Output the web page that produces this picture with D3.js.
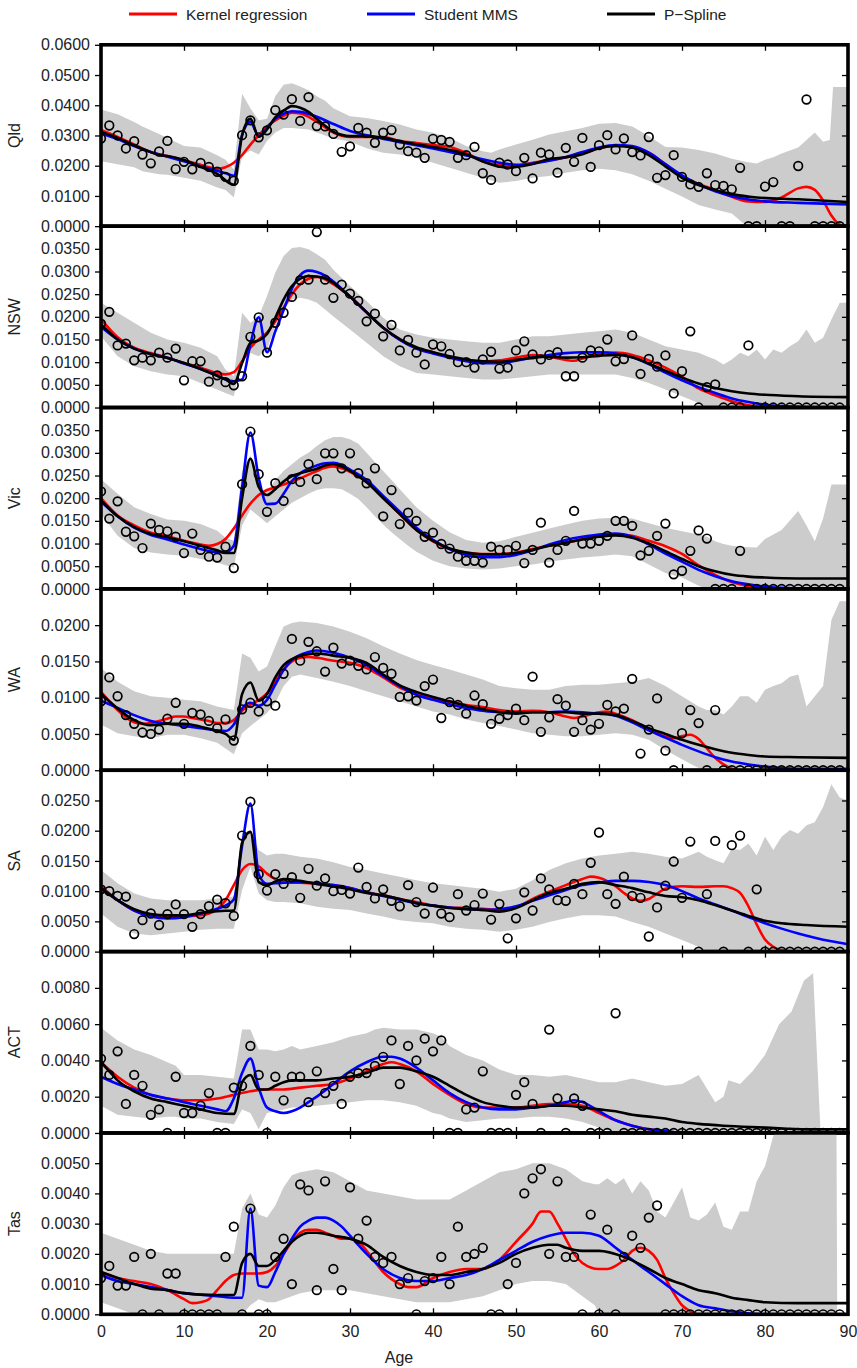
<!DOCTYPE html>
<html>
<head>
<meta charset="utf-8">
<script src="https://d3js.org/d3.v7.min.js"></script>
<style>
  body { margin: 0; background: #fff; }
  svg text { font-family: "Liberation Sans", Arial, sans-serif; fill: #222; }
  .tick line { stroke: #000; stroke-width: 1.3; }
  .domain { display: none; }
</style>
</head>
<body>
<svg id="chart" width="857" height="1368"></svg>
<script>
// ---- panel setup
const panelNames = ['Qld', 'NSW', 'Vic', 'WA', 'SA', 'ACT', 'Tas'];
const yMaxes = [0.06, 0.04, 0.04, 0.025, 0.03, 0.01, 0.006];
const ySteps = [0.01, 0.005, 0.005, 0.005, 0.005, 0.002, 0.001];
const ageTicks = [0, 10, 20, 30, 40, 50, 60, 70, 80, 90];
const legendNames = ['Kernel regression', 'Student MMS', 'P\u2212Spline'];
const lineColors = ['#ff0000', '#0000ff', '#000000'];

// observed rates, ages 0..89
const qldPts = [0.029,0.0333,0.030,0.0257,0.0281,0.0237,0.0208,0.0247,0.0282,0.0189,
  0.0213,0.0188,0.0209,0.0196,0.018,0.0163,0.015,0.0301,0.035,0.0294,
  0.0317,0.0384,0.0369,0.042,0.0348,0.0427,0.0331,0.033,0.0305,0.0246,
  0.0264,0.0325,0.0309,0.0276,0.0309,0.0318,0.027,0.0248,0.0243,0.0226,
  0.0289,0.0285,0.0279,0.0226,0.0235,0.0262,0.0175,0.0153,0.021,0.0204,
  0.0182,0.0226,0.0158,0.0243,0.0237,0.0177,0.0259,0.0213,0.0292,0.0196,
  0.0268,0.0301,0.0254,0.029,0.0245,0.0234,0.0295,0.016,0.0169,0.0235,
  0.0163,0.0138,0.013,0.0175,0.0136,0.0133,0.0122,0.0193,0,0,
  0.0131,0.0146,0,0,0.0199,0.0419,0,0,0,0];
const nswPts = [0.0185,0.0211,0.0137,0.0141,0.0104,0.011,0.0104,0.0121,0.011,0.013,
  0.006,0.0102,0.0102,0.0057,0.0071,0.0056,0.0049,0.0069,0.0156,0.0199,
  0.0121,0.0187,0.0209,0.0244,0.0281,0.0282,0.0387,0.0282,0.0242,0.0271,
  0.0251,0.0235,0.019,0.0207,0.0157,0.0182,0.0126,0.0149,0.0121,0.0095,
  0.0139,0.0135,0.0118,0.01,0.01,0.0088,0.0106,0.0123,0.0086,0.0088,
  0.0126,0.0146,0.0117,0.0106,0.0116,0.0122,0.0069,0.0069,0.011,0.0126,
  0.0124,0.015,0.0102,0.0107,0.0159,0.0074,0.0107,0.009,0.0115,0.0031,
  0.008,0.0168,0,0.0045,0.0051,0,0,0,0.0137,0,
  0,0,0,0,0,0,0,0,0,0];
const vicPts = [0.0215,0.0155,0.0193,0.0126,0.0116,0.009,0.0144,0.013,0.0127,0.0115,
  0.0079,0.0122,0.0086,0.0071,0.0069,0.0093,0.0046,0.0231,0.0347,0.0253,
  0.017,0.0233,0.0194,0.0242,0.0236,0.0275,0.0242,0.0299,0.0299,0.0266,
  0.0299,0.0255,0.0233,0.0266,0.016,0.0218,0.0143,0.0168,0.015,0.0115,
  0.0124,0.0099,0.0089,0.0071,0.0062,0.0062,0.0058,0.0093,0.0086,0.0086,
  0.0095,0.0057,0.0086,0.0146,0.0058,0.0086,0.0106,0.0172,0.01,0.01,
  0.0106,0.0117,0.015,0.015,0.0139,0.0074,0.0084,0.0117,0.0144,0.0032,
  0.004,0.0084,0.0129,0.0111,0,0,0,0.0084,0,0,
  0,0,0,0,0,0,0,0,0,0];
const waPts = [0.0095,0.0128,0.0102,0.0076,0.0064,0.0052,0.005,0.0056,0.0071,0.0093,
  0.0064,0.0079,0.0077,0.0068,0.0058,0.007,0.0041,0.0084,0.0093,0.0081,
  0.0095,0.0089,0.0133,0.0181,0.0151,0.0177,0.0164,0.0136,0.0169,0.0147,
  0.0151,0.0144,0.0139,0.0156,0.0141,0.0133,0.0101,0.0102,0.0096,0.0116,
  0.0125,0.0072,0.0094,0.009,0.0078,0.0103,0.0091,0.0064,0.0071,0.0076,
  0.0085,0.0069,0.0129,0.0053,0.0073,0.0098,0.0089,0.0053,0.0069,0.0056,
  0.0064,0.009,0.0081,0.0085,0.0126,0.0023,0.0056,0.0099,0.0027,0,
  0.0051,0.0083,0.0065,0,0.0083,0,0,0,0,0,
  0,0,0,0,0,0,0,0,0,0];
const saPts = [0.0103,0.01,0.0092,0.0091,0.0029,0.0052,0.0063,0.0044,0.0062,0.0078,
  0.0062,0.0041,0.0062,0.0075,0.0086,0.008,0.0059,0.0192,0.0248,0.0128,
  0.0101,0.0128,0.0112,0.0123,0.0089,0.0137,0.0109,0.0121,0.01,0.0102,
  0.0096,0.0139,0.0107,0.0088,0.0103,0.0084,0.0075,0.011,0.0082,0.0063,
  0.0106,0.0063,0.0057,0.0095,0.0068,0.0077,0.0096,0.0053,0.0079,0.0022,
  0.0055,0.0098,0.0068,0.0121,0.0103,0.0085,0.0084,0.0112,0.0095,0.0147,
  0.0197,0.0095,0.0079,0.0124,0.0092,0.0089,0.0025,0.0073,0.0109,0.0149,
  0.0089,0.0182,0,0.0095,0.0183,0,0.0176,0.0192,0,0.0103,
  0,0,0,0,0,0,0,0,0,0];
const actPts = [0.0041,0.0032,0.0045,0.0016,0.0032,0.0026,0.001,0.0013,0,0.0031,
  0.0011,0.0011,0.0015,0.0022,0,0,0.0025,0.0026,0.0048,0.0032,
  0,0.0031,0.0018,0.0031,0.0031,0.0017,0.0034,0.0022,0.0026,0.0016,
  0.0031,0.0033,0.0033,0.0037,0.0042,0.0051,0.0027,0.0048,0.004,0.0052,
  0.0045,0.0051,0,0,0.0013,0.0014,0.0034,0,0,0,
  0.0021,0.0028,0.0016,0,0.0057,0.0019,0,0.0019,0.0015,0,
  0,0,0.0066,0,0,0,0,0,0,0,
  0,0,0,0,0,0,0,0,0,0,
  0,0,0,0,0,0,0,0,0,0];
const tasPts = [0.0012,0.0016,0.00095,0.00095,0.0019,0,0.002,0,0.00135,0.00135,
  0,0,0,0,0,0.0019,0.0029,0,0.0035,0,
  0,0.0019,0.0025,0.001,0.0043,0.0041,0.0008,0.0044,0.0015,0.0008,
  0.0042,0.0025,0.0031,0.0019,0.0017,0.0019,0.001,0.0012,0,0.0011,
  0.0012,0.0019,0.001,0.0029,0.0019,0.002,0.0022,0,0,0.001,
  0.0017,0.004,0.0045,0.0048,0.002,0.0044,0.0019,0.0019,0,0.0033,
  0,0.0028,0,0.0019,0.0026,0.0022,0.0032,0.0036,0,0,
  0,0,0,0,0,0,0,0,0,0,
  0,0,0,0,0,0,0,0,0,0];

// gray bands: [age, lower, upper]
const qldBand = [[0,0.0215,0.0386],[2,0.0205,0.037],[4,0.0195,0.0345],[5,0.0182,0.033],[7,0.0172,0.0305],[8,0.017,0.0292],[10,0.016,0.0265],[12,0.015,0.026],[14,0.0128,0.0235],[15,0.012,0.022],[16,0.0095,0.0188],[17,0.0232,0.0438],[18,0.025,0.039],[19,0.0237,0.035],[20,0.0282,0.0355],[21,0.031,0.043],[22,0.0325,0.0468],[23,0.0325,0.0473],[24,0.0322,0.0462],[25,0.032,0.045],[26,0.031,0.043],[27,0.030,0.0415],[28,0.029,0.039],[30,0.028,0.0364],[32,0.0258,0.0358],[34,0.0243,0.0348],[36,0.0237,0.0336],[38,0.0226,0.032],[40,0.021,0.0309],[42,0.0193,0.0292],[44,0.0177,0.0265],[46,0.016,0.0248],[47,0.0152,0.0243],[48,0.0144,0.0254],[50,0.0149,0.027],[52,0.016,0.0286],[54,0.0166,0.0303],[56,0.0177,0.0314],[58,0.0185,0.0325],[60,0.019,0.0339],[62,0.0185,0.0341],[64,0.0172,0.033],[66,0.015,0.0298],[68,0.0124,0.0262],[70,0.0098,0.026],[72,0.007,0.0252],[74,0.0055,0.024],[76,0.0042,0.0223],[77.8,0,0.0212],[79,0,0.0207],[80,0,0.022],[81,0,0.0228],[82,0,0.024],[84,0,0.026],[86,0,0.031],[87,0,0.0279],[87.8,0,0.0285],[88.2,0,0.046],[90,0,0.046]];
const nswBand = [[0,0.0157,0.0231],[2,0.0113,0.0209],[4,0.0091,0.0187],[6,0.008,0.0165],[8,0.0073,0.015],[10,0.0069,0.0143],[12,0.0054,0.0132],[14,0.004,0.0113],[15,0.0032,0.0084],[16,0.0025,0.0069],[17,0.0106,0.0209],[18,0.012,0.0187],[19,0.0113,0.0201],[20,0.0128,0.0246],[21,0.0179,0.0297],[22,0.0216,0.0334],[23,0.0238,0.0352],[24,0.0242,0.0354],[25,0.0238,0.0349],[26,0.0231,0.0338],[27,0.0216,0.0326],[28,0.0201,0.0304],[30,0.0172,0.0268],[32,0.0143,0.0235],[34,0.0113,0.0198],[36,0.0091,0.0172],[38,0.0076,0.0161],[40,0.0073,0.0154],[42,0.0069,0.015],[44,0.0065,0.0146],[46,0.0062,0.0143],[48,0.0062,0.0143],[50,0.0065,0.015],[52,0.0069,0.0157],[54,0.0073,0.0157],[56,0.0073,0.0161],[58,0.0073,0.0165],[60,0.0073,0.0168],[62,0.0073,0.0172],[64,0.0065,0.0165],[66,0.0054,0.015],[68,0.004,0.0135],[70,0.0025,0.0128],[72,0.001,0.0121],[73,0,0.0113],[74,0,0.0106],[75,0,0.0095],[76,0,0.0106],[77,0,0.0121],[78,0,0.0113],[79,0,0.0128],[80,0,0.0106],[81,0,0.0128],[82,0,0.0121],[83,0,0.0135],[84,0,0.0146],[85,0,0.0172],[86,0,0.0143],[87,0,0.0154],[88,0,0.0194],[89,0,0.0231],[90,0,0.0231]];
const vicBand = [[0,0.0165,0.0242],[2,0.0117,0.021],[4,0.009,0.018],[6,0.008,0.0165],[8,0.0076,0.0153],[10,0.0073,0.015],[12,0.0066,0.0143],[14,0.0058,0.0128],[15,0.0052,0.0113],[16,0.0047,0.0106],[17,0.014,0.026],[18,0.0175,0.0295],[19,0.016,0.022],[20,0.0145,0.0215],[21,0.016,0.024],[22,0.0175,0.026],[23,0.019,0.0275],[24,0.02,0.029],[25,0.021,0.03],[26,0.0218,0.0315],[27,0.0222,0.0328],[28,0.0222,0.0335],[29,0.022,0.0335],[30,0.021,0.033],[31,0.0198,0.032],[32,0.018,0.03],[33,0.016,0.028],[34,0.0142,0.026],[35,0.0125,0.024],[36,0.011,0.022],[37,0.0095,0.02],[38,0.0082,0.018],[39,0.0072,0.0165],[40,0.0062,0.015],[42,0.005,0.0125],[44,0.0045,0.0108],[46,0.0043,0.0102],[48,0.0045,0.0105],[50,0.005,0.0115],[52,0.0054,0.0124],[54,0.006,0.0133],[56,0.0065,0.0142],[58,0.0069,0.015],[60,0.0072,0.0155],[62,0.0076,0.0157],[64,0.0072,0.0155],[66,0.0054,0.0145],[68,0.0035,0.0135],[70,0.0025,0.0127],[72,0.0007,0.012],[73,0,0.0115],[74,0,0.0105],[75,0,0.0099],[76,0,0.0095],[78,0,0.0092],[79,0,0.0091],[80,0,0.011],[82,0,0.013],[84,0,0.0172],[85,0,0.014],[86,0,0.0105],[87,0,0.0155],[88,0,0.023],[90,0,0.023]];
const waBand = [[0,0.0063,0.0141],[2,0.0051,0.0122],[4,0.0047,0.0109],[6,0.0044,0.0102],[8,0.0049,0.01],[10,0.0049,0.0097],[12,0.0044,0.0095],[14,0.0038,0.0088],[16,0.0022,0.0083],[17,0.0051,0.0161],[18,0.0061,0.0155],[19,0.007,0.0136],[20,0.0079,0.0143],[21,0.0093,0.0171],[22,0.0116,0.0198],[23,0.0129,0.0203],[24,0.0132,0.0205],[26,0.0127,0.0203],[28,0.0122,0.0198],[30,0.0116,0.0191],[32,0.0109,0.0182],[34,0.0102,0.0171],[36,0.0095,0.0161],[38,0.0088,0.0152],[40,0.0081,0.0145],[42,0.0077,0.0139],[44,0.007,0.0132],[46,0.0065,0.0125],[48,0.0061,0.0116],[50,0.0056,0.0113],[52,0.0051,0.0111],[54,0.0049,0.0111],[56,0.0047,0.0116],[58,0.0047,0.0118],[60,0.0049,0.0118],[62,0.0051,0.012],[64,0.0049,0.0122],[66,0.0042,0.0127],[68,0.0028,0.0116],[70,0.0015,0.0102],[72,0.0003,0.0088],[73,0,0.0083],[74,0,0.0083],[75,0,0.0077],[76,0,0.0088],[77,0,0.0102],[78,0,0.0102],[79,0,0.0093],[80,0,0.0111],[81,0,0.0116],[82,0,0.012],[83,0,0.0129],[84,0,0.0132],[85,0,0.0088],[86,0,0.0102],[87,0,0.0116],[88,0,0.0207],[89,0,0.0233],[90,0,0.0233]];
const saBand = [[0,0.0063,0.0135],[2,0.0041,0.0113],[4,0.003,0.0096],[6,0.0027,0.0088],[8,0.003,0.0085],[10,0.0033,0.0085],[12,0.0036,0.0085],[14,0.0038,0.0088],[16,0.0038,0.0091],[17,0.0102,0.0195],[18,0.014,0.0201],[19,0.0096,0.0168],[20,0.0085,0.0159],[21,0.0082,0.0162],[22,0.0082,0.0162],[24,0.008,0.0157],[26,0.0074,0.0154],[28,0.0071,0.0148],[30,0.0069,0.014],[32,0.0063,0.0135],[34,0.0058,0.0129],[36,0.0052,0.0124],[38,0.0049,0.0118],[40,0.0047,0.0113],[42,0.0041,0.011],[44,0.0038,0.0107],[46,0.0036,0.0104],[48,0.0033,0.0099],[50,0.0036,0.0104],[52,0.0041,0.0118],[54,0.0049,0.0135],[56,0.0055,0.0146],[58,0.006,0.0154],[60,0.006,0.0159],[62,0.0058,0.0162],[64,0.0049,0.0165],[66,0.0041,0.0162],[68,0.003,0.0157],[70,0.0019,0.0154],[72,0.0008,0.0165],[73,0,0.0157],[74,0,0.0151],[75,0,0.0146],[76,0,0.017],[77,0,0.0168],[78,0,0.0179],[79,0,0.0159],[80,0,0.019],[81,0,0.0168],[82,0,0.019],[83,0,0.0201],[84,0,0.0195],[85,0,0.0209],[86,0,0.0214],[87,0,0.0239],[88,0,0.0277],[89,0,0.0255],[90,0,0.025]];
const actBand = [[0,0.0015,0.0058],[2,0.001,0.0051],[4,0.0009,0.0046],[6,0.0008,0.0043],[8,0.0009,0.0039],[9,0.0009,0.0037],[10,0.0008,0.0032],[12,0.0008,0.0032],[14,0.0006,0.0031],[16,0.0005,0.003],[17,0.0013,0.0057],[18,0.0011,0.0057],[19,0.0002,0.0046],[20,0.0011,0.0046],[21,0.0012,0.0045],[22,0.0013,0.0046],[23,0.0014,0.0048],[24,0.0014,0.0046],[26,0.0015,0.0048],[28,0.0016,0.005],[30,0.0017,0.0053],[32,0.0018,0.0055],[33,0.0018,0.0057],[34,0.0018,0.0058],[36,0.0017,0.0057],[38,0.0015,0.0057],[40,0.0011,0.0055],[41,0.001,0.0053],[42,0.0008,0.0048],[44,0.0006,0.0043],[46,0.0007,0.004],[48,0.0008,0.0035],[50,0.0008,0.0032],[52,0.0009,0.0032],[54,0.0009,0.0031],[56,0.0008,0.0032],[58,0.0006,0.003],[60,0.0003,0.0028],[62,0,0.0028],[64,0,0.003],[66,0,0.0028],[68,0,0.0026],[70,0,0.0027],[72,0,0.0032],[74,0,0.0017],[75,0,0.002],[75.6,0,0.0029],[77,0,0.0027],[78.5,0,0.0034],[80,0,0.0043],[81.7,0,0.006],[83.2,0,0.0067],[84.7,0,0.0084],[85.8,0,0.0088],[86.7,0,0],[90,0,0]];
const tasBand = [[0,0.0004,0.0027],[2,0.0002,0.0025],[4,0,0.0023],[6,0,0.0021],[8,0,0.002],[10,0,0.002],[12,0,0.002],[14,0,0.002],[16,0,0.002],[17,0,0.0035],[18,0.0003,0.004],[19,0.0005,0.0033],[20,0.0004,0.0032],[21,0.0004,0.0036],[22,0.0005,0.0042],[23,0.0006,0.0046],[24,0.0007,0.0047],[26,0.0008,0.0048],[28,0.0008,0.0047],[30,0.0008,0.0044],[32,0.0007,0.0041],[34,0.0006,0.004],[36,0.0005,0.0039],[38,0.0004,0.0038],[40,0.0004,0.0038],[42,0.0004,0.0038],[44,0.0005,0.0041],[46,0.0006,0.0044],[48,0.0008,0.0047],[50,0.001,0.0048],[52,0.0011,0.005],[54,0.0011,0.005],[56,0.001,0.0048],[58,0.0006,0.0044],[59.5,0.0003,0.0043],[60,0,0.0043],[61,0,0.0045],[62,0,0.0043],[63,0,0.0045],[64,0,0.004],[65,0,0.0044],[66,0,0.0041],[67,0,0.0034],[68,0,0.0032],[69,0,0.0037],[70,0,0.0042],[71,0,0.0032],[72,0,0.0031],[73,0,0.0033],[74,0,0.0037],[75,0,0.0029],[76,0,0.0028],[77,0,0.0034],[78,0,0.0034],[79,0,0.0044],[80,0,0.0049],[81,0,0.0059],[82,0,0.0066],[88.6,0,0.007],[88.7,0,0],[90,0,0]];

// fitted curves: [age, rate]
const qldKernel = [[0,0.0318],[2,0.0295],[4,0.027],[6,0.0245],[8,0.0232],[10,0.0218],[12,0.0203],[13,0.0195],[14,0.019],[15,0.0195],[16,0.021],[17,0.0235],[18,0.027],[19,0.03],[20,0.033],[21,0.035],[22,0.0365],[23,0.0375],[24,0.0373],[26,0.0345],[28,0.031],[30,0.0295],[32,0.0295],[34,0.0295],[36,0.0282],[38,0.0275],[40,0.0268],[42,0.0262],[44,0.0242],[46,0.0215],[48,0.0202],[50,0.02],[52,0.021],[55,0.0222],[58,0.024],[60,0.0258],[62,0.0265],[64,0.0262],[66,0.0243],[68,0.0205],[70,0.0165],[72,0.014],[74,0.012],[76,0.0097],[78,0.0082],[80,0.008],[82,0.0095],[84,0.0125],[85,0.013],[86,0.012],[87,0.0085],[88,0.0035],[89,0.0005],[90,0]];
const qldMms = [[0,0.0307],[2,0.0288],[4,0.0265],[6,0.0245],[8,0.023],[10,0.0215],[12,0.0198],[14,0.0183],[15,0.0175],[16,0.0167],[17,0.0302],[18,0.0345],[19,0.0298],[20,0.0325],[21,0.0355],[22,0.0372],[23,0.038],[24,0.0378],[26,0.0362],[28,0.0338],[30,0.0315],[33,0.0295],[36,0.0278],[40,0.0257],[44,0.0234],[48,0.021],[50,0.0203],[52,0.0207],[55,0.0222],[58,0.0245],[60,0.026],[62,0.0268],[64,0.0265],[66,0.0243],[68,0.0205],[70,0.0168],[72,0.0138],[74,0.0115],[76,0.0099],[78,0.0088],[80,0.0082],[84,0.0077],[90,0.0072]];
const qldSpline = [[0,0.0312],[2,0.0292],[4,0.0267],[6,0.0245],[7,0.0235],[8,0.0232],[10,0.0219],[12,0.0196],[14,0.0173],[16,0.0137],[17,0.03],[18,0.0355],[19,0.0296],[20,0.032],[21,0.036],[22,0.0382],[23,0.0397],[24,0.0392],[25,0.0378],[26,0.0355],[27,0.0332],[28,0.0312],[29,0.0302],[30,0.0298],[32,0.0298],[34,0.0292],[36,0.0281],[38,0.0271],[40,0.0262],[42,0.0252],[44,0.0238],[46,0.0214],[48,0.0197],[49,0.0193],[50,0.0196],[52,0.0206],[54,0.0222],[56,0.0228],[58,0.0238],[60,0.0258],[62,0.0265],[64,0.026],[66,0.0235],[68,0.0198],[70,0.016],[72,0.0136],[73,0.0127],[76,0.0106],[79,0.0095],[84,0.0089],[90,0.008]];
const nswKernel = [[0,0.0195],[2,0.0155],[4,0.0132],[6,0.012],[8,0.011],[10,0.0098],[12,0.0088],[14,0.0076],[15,0.0073],[16,0.0078],[17,0.0102],[18,0.0132],[19,0.015],[20,0.0165],[21,0.019],[22,0.022],[23,0.025],[24,0.0272],[25,0.0284],[26,0.0288],[27,0.0283],[28,0.0272],[30,0.0245],[32,0.021],[34,0.0176],[36,0.015],[38,0.0131],[40,0.0122],[42,0.0111],[44,0.0105],[46,0.0102],[48,0.0104],[50,0.011],[52,0.0116],[54,0.0112],[56,0.0105],[57,0.0103],[58,0.0108],[60,0.0118],[62,0.0121],[64,0.0116],[66,0.0104],[68,0.0088],[70,0.0068],[72,0.0042],[74,0.0027],[76,0.0014],[78,0.0005],[80,0.0001],[82,0],[90,0]];
const nswMms = [[0,0.0178],[2,0.015],[4,0.013],[6,0.0118],[8,0.011],[10,0.0097],[12,0.0085],[14,0.007],[15,0.0062],[16,0.0058],[17,0.0062],[18,0.014],[19,0.0199],[20,0.0122],[21,0.0168],[22,0.0215],[23,0.0262],[24,0.0292],[25,0.0302],[26,0.0299],[27,0.0291],[28,0.0278],[30,0.0245],[32,0.021],[34,0.0176],[36,0.0149],[38,0.013],[40,0.0119],[42,0.011],[44,0.0102],[46,0.0098],[48,0.0098],[50,0.0103],[52,0.011],[54,0.0116],[56,0.012],[58,0.0122],[60,0.0122],[62,0.0119],[64,0.0111],[66,0.0096],[68,0.0077],[70,0.006],[72,0.0045],[74,0.0032],[76,0.002],[78,0.0012],[80,0.0006],[82,0.0003],[85,0.0001],[90,0]];
const nswSpline = [[0,0.0183],[2,0.015],[4,0.013],[6,0.0118],[8,0.0109],[10,0.0098],[12,0.0085],[14,0.007],[15,0.0062],[16,0.0052],[17,0.0098],[18,0.0142],[19,0.0148],[20,0.0162],[21,0.0198],[22,0.0238],[23,0.0268],[24,0.0284],[25,0.029],[26,0.0289],[27,0.0285],[28,0.0275],[29,0.026],[30,0.0245],[32,0.021],[34,0.0176],[36,0.0151],[38,0.0133],[40,0.0122],[42,0.0113],[44,0.0106],[46,0.0102],[48,0.0101],[50,0.0105],[52,0.011],[54,0.0112],[56,0.011],[58,0.0111],[60,0.0114],[62,0.0116],[64,0.0111],[66,0.0097],[68,0.0081],[70,0.0066],[72,0.0053],[74,0.0043],[76,0.0036],[78,0.0031],[80,0.0028],[84,0.0025],[90,0.0023]];
const vicKernel = [[0,0.02],[2,0.0162],[4,0.014],[6,0.0124],[8,0.0116],[10,0.0106],[12,0.0098],[13,0.0095],[14,0.0099],[15,0.011],[16,0.0133],[17,0.0162],[18,0.0188],[19,0.0207],[20,0.0218],[21,0.0224],[22,0.023],[23,0.0237],[24,0.0244],[25,0.0252],[26,0.026],[27,0.0267],[28,0.027],[29,0.0266],[30,0.0258],[32,0.0236],[34,0.0201],[36,0.0165],[38,0.013],[40,0.0105],[42,0.0088],[44,0.008],[46,0.0077],[48,0.0077],[50,0.008],[52,0.0088],[54,0.0095],[56,0.0101],[58,0.011],[60,0.0116],[62,0.012],[64,0.0117],[66,0.0106],[68,0.0094],[70,0.0077],[72,0.0052],[74,0.0031],[76,0.0015],[78,0.0006],[80,0.0002],[84,0],[90,0]];
const vicMms = [[0,0.0193],[2,0.016],[4,0.0135],[6,0.0119],[8,0.0109],[10,0.0098],[12,0.0088],[14,0.0081],[15,0.0081],[16,0.0095],[17,0.0225],[18,0.0345],[19,0.0245],[20,0.0187],[21,0.0188],[22,0.021],[23,0.0238],[24,0.0255],[25,0.0265],[26,0.0272],[27,0.0277],[28,0.0278],[29,0.0273],[30,0.0263],[32,0.024],[34,0.0205],[36,0.017],[38,0.0135],[40,0.0108],[42,0.0088],[44,0.0075],[46,0.007],[48,0.007],[50,0.0075],[52,0.0085],[54,0.0098],[56,0.0108],[58,0.0115],[60,0.012],[62,0.0122],[64,0.0115],[66,0.0098],[68,0.0078],[70,0.006],[72,0.0042],[74,0.0028],[76,0.0017],[78,0.001],[80,0.0005],[84,0.0001],[90,0]];
const vicSpline = [[0,0.0195],[2,0.016],[4,0.0136],[6,0.0121],[8,0.0114],[10,0.0105],[12,0.0095],[14,0.0085],[15,0.0079],[16,0.0079],[17,0.02],[18,0.0287],[19,0.0225],[20,0.0207],[21,0.022],[22,0.0237],[23,0.0249],[24,0.0255],[25,0.026],[26,0.0265],[27,0.0272],[28,0.0275],[29,0.027],[30,0.026],[32,0.0235],[34,0.02],[36,0.0165],[38,0.013],[40,0.0106],[42,0.0089],[44,0.008],[46,0.0076],[48,0.0076],[50,0.0079],[52,0.0086],[54,0.0095],[56,0.0102],[58,0.0109],[60,0.0115],[62,0.0118],[64,0.0113],[66,0.01],[68,0.0083],[70,0.0066],[72,0.005],[74,0.0039],[76,0.0031],[78,0.0027],[80,0.0025],[84,0.0023],[90,0.0023]];
const waKernel = [[0,0.0108],[1,0.0095],[2,0.0083],[3,0.0073],[4,0.0066],[5,0.0064],[6,0.0065],[7,0.0068],[8,0.0071],[9,0.0074],[10,0.0074],[11,0.0072],[12,0.007],[13,0.0068],[14,0.0065],[15,0.0065],[16,0.0069],[17,0.0082],[18,0.009],[19,0.0097],[20,0.0106],[21,0.0122],[22,0.0139],[23,0.015],[24,0.0155],[25,0.0156],[26,0.0155],[28,0.0151],[30,0.0148],[32,0.0141],[34,0.0128],[36,0.0114],[38,0.0106],[40,0.01],[42,0.0094],[44,0.009],[46,0.0087],[48,0.0083],[50,0.0081],[52,0.0082],[54,0.008],[56,0.0074],[57,0.0072],[58,0.0074],[60,0.008],[61,0.0081],[62,0.0078],[64,0.0069],[66,0.0057],[68,0.0046],[69,0.0044],[70,0.0047],[71,0.0049],[72,0.0043],[73,0.003],[74,0.0017],[75,0.0008],[76,0.0002],[77,0],[90,0]];
const waMms = [[0,0.0096],[2,0.0086],[4,0.0076],[6,0.0068],[8,0.0064],[10,0.0061],[12,0.0058],[14,0.0055],[15,0.0054],[16,0.0063],[17,0.0085],[18,0.0093],[19,0.0089],[20,0.0097],[21,0.0118],[22,0.0138],[23,0.0152],[24,0.0159],[25,0.0163],[26,0.0165],[27,0.0164],[28,0.0162],[30,0.0155],[32,0.0145],[34,0.013],[36,0.0116],[38,0.0104],[40,0.0097],[42,0.0091],[44,0.0086],[46,0.0082],[48,0.008],[50,0.008],[52,0.008],[54,0.008],[56,0.0081],[58,0.008],[60,0.0078],[62,0.0075],[64,0.0066],[66,0.0055],[68,0.0045],[70,0.0035],[72,0.0026],[74,0.0018],[76,0.0012],[78,0.0008],[80,0.0005],[84,0.0002],[90,0.0002]];
const waSpline = [[0,0.0106],[1,0.0095],[2,0.0085],[4,0.0069],[6,0.0062],[8,0.0064],[10,0.0064],[12,0.006],[14,0.0054],[15,0.005],[16,0.0042],[17,0.0105],[18,0.0121],[19,0.0096],[20,0.0105],[21,0.0128],[22,0.0145],[23,0.0153],[24,0.0158],[25,0.016],[26,0.0161],[27,0.016],[28,0.0158],[30,0.0155],[32,0.0148],[34,0.0132],[36,0.0117],[38,0.0108],[40,0.0101],[42,0.0095],[44,0.0089],[46,0.0084],[48,0.008],[50,0.0078],[52,0.008],[54,0.008],[56,0.008],[58,0.0078],[60,0.0078],[62,0.0076],[64,0.0068],[66,0.0058],[68,0.005],[70,0.0042],[72,0.0035],[74,0.0029],[76,0.0024],[78,0.0021],[80,0.0019],[84,0.0018],[90,0.0017]];
const saKernel = [[0,0.0108],[2,0.0085],[4,0.0068],[6,0.006],[8,0.0057],[10,0.0058],[12,0.006],[13,0.0063],[14,0.007],[15,0.0085],[16,0.011],[17,0.0135],[18,0.0145],[19,0.0141],[20,0.0129],[21,0.012],[22,0.0116],[24,0.0114],[26,0.0112],[28,0.011],[30,0.0105],[32,0.0098],[34,0.0093],[36,0.0087],[38,0.0082],[40,0.0076],[42,0.0073],[44,0.0072],[46,0.0071],[48,0.0069],[50,0.0073],[52,0.0087],[54,0.0099],[56,0.011],[58,0.012],[59,0.0124],[60,0.0122],[62,0.0108],[63,0.0097],[64,0.0088],[65,0.0084],[66,0.0087],[67,0.0096],[68,0.0104],[70,0.0108],[72,0.0107],[74,0.0108],[75,0.0108],[76,0.0105],[77,0.0097],[78,0.0075],[79,0.0045],[80,0.002],[81,0.0008],[82,0.0002],[84,0],[90,0]];
const saMms = [[0,0.0105],[2,0.0085],[4,0.0068],[6,0.0058],[8,0.0055],[10,0.0057],[12,0.0063],[14,0.0071],[15,0.0076],[16,0.0086],[17,0.0175],[18,0.0245],[19,0.0128],[20,0.0112],[21,0.0113],[22,0.0114],[24,0.0115],[26,0.0113],[28,0.011],[30,0.0105],[32,0.0098],[34,0.0092],[36,0.0086],[38,0.008],[40,0.0076],[42,0.0073],[44,0.0071],[46,0.0069],[48,0.007],[50,0.0075],[52,0.0084],[54,0.0093],[56,0.0102],[58,0.011],[60,0.0114],[62,0.0117],[64,0.0117],[66,0.0115],[68,0.011],[70,0.01],[72,0.0088],[74,0.0078],[76,0.0068],[78,0.0057],[80,0.0047],[82,0.0038],[84,0.003],[86,0.0023],[88,0.0017],[90,0.0012]];
const saSpline = [[0,0.0105],[2,0.0085],[4,0.007],[6,0.0062],[8,0.006],[10,0.006],[12,0.0064],[14,0.0067],[16,0.0068],[17,0.018],[18,0.0198],[19,0.0115],[20,0.011],[21,0.0116],[22,0.012],[24,0.0117],[26,0.0112],[28,0.0108],[30,0.0103],[32,0.0097],[34,0.0093],[36,0.0087],[38,0.008],[40,0.0076],[42,0.0072],[44,0.007],[46,0.0069],[48,0.0066],[50,0.0072],[52,0.0085],[54,0.0097],[56,0.0104],[58,0.0112],[60,0.0115],[62,0.011],[64,0.0105],[66,0.0098],[68,0.0092],[70,0.009],[72,0.0085],[74,0.0077],[76,0.0068],[78,0.0059],[80,0.0051],[82,0.0047],[85,0.0044],[90,0.0041]];
const actKernel = [[0,0.0039],[2,0.0031],[4,0.0025],[6,0.0021],[8,0.0019],[10,0.0018],[12,0.0018],[14,0.0019],[16,0.0021],[18,0.0023],[20,0.0024],[22,0.0024],[24,0.0025],[26,0.0026],[28,0.0027],[30,0.003],[32,0.0034],[34,0.0038],[35,0.0039],[36,0.0038],[38,0.0034],[40,0.0027],[42,0.0021],[44,0.0016],[46,0.0014],[48,0.0014],[50,0.0014],[52,0.0015],[54,0.0016],[56,0.0016],[58,0.0015],[60,0.0011],[62,0.0007],[64,0.0004],[66,0.0002],[68,0.0001],[70,0],[90,0]];
const actMms = [[0,0.0031],[2,0.0027],[4,0.0024],[6,0.0021],[8,0.0019],[10,0.0017],[12,0.0015],[14,0.0013],[15,0.0012],[16,0.0019],[17,0.0033],[18,0.0041],[19,0.0025],[20,0.0014],[21,0.0012],[22,0.0011],[23,0.0012],[24,0.0014],[25,0.0017],[26,0.002],[28,0.0027],[30,0.0034],[32,0.0039],[34,0.0042],[35,0.0042],[36,0.0041],[38,0.0036],[40,0.0029],[42,0.0022],[44,0.0017],[46,0.0014],[48,0.0013],[50,0.0013],[52,0.0014],[54,0.0015],[56,0.0017],[57,0.0018],[58,0.0017],[60,0.0012],[62,0.0007],[64,0.0004],[66,0.0002],[68,0.0001],[70,0],[90,0]];
const actSpline = [[0,0.0039],[1,0.0034],[2,0.0029],[4,0.0023],[6,0.0019],[8,0.0017],[10,0.0015],[12,0.0013],[14,0.0011],[16,0.00105],[17,0.0028],[18,0.0032],[19,0.0024],[20,0.0024],[21,0.0026],[22,0.0028],[23,0.0029],[24,0.0029],[26,0.0029],[28,0.003],[30,0.0031],[32,0.0033],[34,0.0036],[35,0.0036],[36,0.0036],[38,0.0034],[40,0.0031],[42,0.0026],[44,0.0021],[46,0.0017],[48,0.0015],[50,0.0014],[52,0.0014],[54,0.0015],[56,0.0015],[58,0.0014],[60,0.0013],[62,0.0012],[64,0.001],[66,0.0009],[68,0.0008],[70,0.0006],[72,0.0005],[75,0.0004],[80,0.0003],[85,0.0002],[90,0.0002]];
const tasKernel = [[0,0.0014],[2,0.0012],[4,0.0011],[6,0.001],[8,0.0008],[10,0.0005],[11,0.00037],[12,0.0004],[13,0.0005],[14,0.0008],[15,0.0011],[16,0.0013],[17,0.00135],[18,0.00135],[19,0.00135],[20,0.0014],[21,0.0016],[22,0.002],[23,0.0024],[24,0.0027],[25,0.0028],[26,0.0028],[27,0.0027],[28,0.0026],[29,0.0025],[30,0.0025],[31,0.0024],[32,0.0021],[34,0.0014],[36,0.001],[37,0.0009],[38,0.0009],[40,0.0012],[42,0.0014],[44,0.0015],[46,0.0015],[48,0.0018],[50,0.0024],[52,0.003],[53,0.0034],[54,0.0034],[55,0.003],[56,0.0025],[57,0.002],[58,0.0017],[60,0.0015],[61,0.0015],[62,0.0016],[63,0.0018],[64,0.0021],[65,0.0022],[66,0.0021],[67,0.0018],[68,0.0012],[69,0.0007],[70,0.0003],[71,0.0001],[72,0],[90,0]];
const tasMms = [[0,0.0013],[2,0.0011],[4,0.001],[6,0.0009],[8,0.0008],[10,0.0007],[12,0.00065],[14,0.0006],[16,0.00055],[17,0.00055],[18,0.0035],[19,0.00095],[20,0.0009],[21,0.0014],[22,0.002],[23,0.0025],[24,0.0029],[25,0.0031],[26,0.0032],[27,0.0032],[28,0.0031],[29,0.0029],[30,0.0026],[32,0.002],[34,0.0015],[36,0.0012],[38,0.0011],[40,0.0011],[42,0.0012],[44,0.0013],[46,0.0015],[48,0.0018],[50,0.0021],[52,0.0024],[54,0.0026],[56,0.0027],[58,0.0027],[60,0.0026],[62,0.0022],[64,0.0018],[66,0.0014],[68,0.001],[70,0.0006],[72,0.0003],[74,0.0002],[76,0.0001],[80,0],[90,0]];
const tasSpline = [[0,0.0014],[2,0.0012],[4,0.001],[6,0.00085],[8,0.0008],[10,0.0007],[12,0.00065],[14,0.00064],[16,0.00064],[17,0.0017],[18,0.002],[19,0.0016],[20,0.0016],[21,0.0018],[22,0.0021],[23,0.0024],[24,0.0026],[25,0.0027],[26,0.0027],[28,0.0026],[30,0.0025],[32,0.0023],[34,0.0019],[36,0.0016],[38,0.0014],[40,0.0013],[42,0.0013],[44,0.0014],[46,0.0015],[48,0.0017],[50,0.002],[52,0.0022],[54,0.0023],[55,0.0023],[56,0.0022],[58,0.0021],[60,0.0021],[63,0.0019],[66,0.0015],[68,0.0012],[70,0.001],[72,0.0008],[74,0.0007],[76,0.00055],[78,0.00047],[80,0.0004],[84,0.00037],[90,0.00037]];

const allPts = [qldPts, nswPts, vicPts, waPts, saPts, actPts, tasPts];
const allBands = [qldBand, nswBand, vicBand, waBand, saBand, actBand, tasBand];
const allFits = [
  [qldKernel, qldMms, qldSpline], [nswKernel, nswMms, nswSpline], [vicKernel, vicMms, vicSpline],
  [waKernel, waMms, waSpline], [saKernel, saMms, saSpline], [actKernel, actMms, actSpline],
  [tasKernel, tasMms, tasSpline]
];

// ---- drawing
const svg = d3.select('svg#chart');
const left = 101, right = 848;
const top0 = 44.8, panelH = 181.36;
const x = d3.scaleLinear().domain([0, 90]).range([left, right]);
const fmt = d3.format('.4f');

panelNames.forEach((name, i) => {
  const top = top0 + i * panelH;
  const bottom = top + panelH;
  const y = d3.scaleLinear().domain([0, yMaxes[i]]).range([bottom, top]);
  const g = svg.append('g');

  g.append('clipPath').attr('id', 'clip' + i)
    .append('rect').attr('x', left).attr('y', top).attr('width', right - left).attr('height', panelH);
  const inner = g.append('g').attr('clip-path', `url(#clip${i})`);

  // band
  const area = d3.area().x(d => x(d[0])).y0(d => y(d[1])).y1(d => y(d[2]));
  inner.append('path').datum(allBands[i]).attr('d', area).attr('fill', '#cccccc');

  // fitted lines
  const line = d3.line().x(d => x(d[0])).y(d => y(d[1])).curve(d3.curveMonotoneX);
  allFits[i].forEach((fit, k) => {
    inner.append('path').datum(fit).attr('d', line)
      .attr('fill', 'none').attr('stroke', lineColors[k]).attr('stroke-width', 2.6)
      .attr('stroke-linejoin', 'round');
  });

  // observed points
  inner.selectAll('circle').data(allPts[i]).join('circle')
    .attr('cx', (d, a) => x(a)).attr('cy', d => y(d))
    .attr('r', 4.3).attr('fill', 'none').attr('stroke', '#000').attr('stroke-width', 1.7);

  // y ticks
  const nT = Math.round(yMaxes[i] / ySteps[i]);
  const yVals = d3.range(0, nT + (i === 0 ? 1 : 0)).map(k => k * ySteps[i]);
  g.append('g').attr('transform', `translate(${left},0)`)
    .call(d3.axisLeft(y).tickValues(yVals).tickFormat(fmt).tickSize(6).tickPadding(5))
    .selectAll('text').style('font-size', '16px');
  g.append('g').attr('transform', `translate(${right},0)`)
    .call(d3.axisLeft(y).tickValues(yVals).tickFormat('').tickSize(6));

  // x ticks (inward, top and bottom)
  g.append('g').attr('transform', `translate(0,${top})`)
    .call(d3.axisBottom(x).tickValues(ageTicks.slice(1, -1)).tickFormat('').tickSize(6));
  g.append('g').attr('transform', `translate(0,${bottom})`)
    .call(d3.axisTop(x).tickValues(ageTicks.slice(1, -1)).tickFormat('').tickSize(6));

  // frame
  g.append('rect').attr('x', left).attr('y', top).attr('width', right - left).attr('height', panelH)
    .attr('fill', 'none').attr('stroke', '#000').attr('stroke-width', 3.6);

  // panel label
  g.append('text').attr('transform', `translate(20,${top + panelH / 2}) rotate(-90)`)
    .attr('text-anchor', 'middle').style('font-size', '16px').text(name);
});

// bottom axis labels
const lastBottom = top0 + panelNames.length * panelH;
svg.append('g').attr('transform', `translate(0,${lastBottom})`)
  .call(d3.axisBottom(x).tickValues(ageTicks).tickFormat(d3.format('d')).tickSize(0).tickPadding(11))
  .selectAll('text').style('font-size', '16px');
svg.append('text').attr('x', 399).attr('y', 1363).attr('text-anchor', 'middle')
  .style('font-size', '16px').text('Age');

// legend
const legendX = [129, 367, 607];
legendNames.forEach((name, k) => {
  svg.append('line').attr('x1', legendX[k]).attr('x2', legendX[k] + 48).attr('y1', 14).attr('y2', 14)
    .attr('stroke', lineColors[k]).attr('stroke-width', 3);
  svg.append('text').attr('x', legendX[k] + 57).attr('y', 19.5).style('font-size', '15.5px').text(name);
});
</script>
</body>
</html>
